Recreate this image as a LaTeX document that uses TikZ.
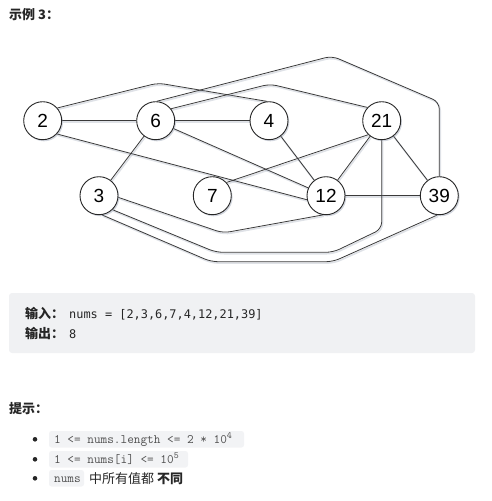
\documentclass[tikz,border=0pt]{standalone}
\usepackage{fontspec}
\setmainfont{Liberation Sans}
\newfontfamily\cjk{Noto Sans CJK SC}
\newfontfamily\codeA{DejaVu Sans Mono}
\usetikzlibrary{shadows}
\definecolor{ink}{HTML}{262626}
\definecolor{boxbg}{HTML}{F0F1F3}
\definecolor{codebg}{HTML}{F2F3F5}
\definecolor{codegray}{HTML}{505050}
\definecolor{edgecol}{HTML}{3A3A3A}
\definecolor{shadowcol}{HTML}{7F8AA0}
\pgfdeclarelayer{bg}
\pgfsetlayers{bg,main}
\tikzset{
  vert/.style={circle, draw=black!85, line width=0.9pt, fill=white, minimum size=38pt,
    inner sep=0pt, font=\fontsize{19}{20}\selectfont,
    drop shadow={shadow xshift=1.3pt, shadow yshift=-1.6pt, opacity=0.35, fill=shadowcol}},
  link/.style={draw=edgecol, line width=0.8pt, rounded corners=7pt,
    preaction={draw=shadowcol, opacity=0.25, line width=1.6pt,
      transform canvas={shift={(0.9pt,-1.4pt)}}}},
  cjktxt/.style={anchor=base west, inner sep=0pt, text=ink, font=\cjk\fontsize{13}{15}\selectfont},
  cjkbold/.style={anchor=base west, inner sep=0pt, text=ink, font=\cjk\bfseries\fontsize{13}{15}\selectfont},
  monoA/.style={anchor=base west, inner sep=0pt, text=ink, font=\codeA\fontsize{11.9}{13}\selectfont},
  monoB/.style={anchor=base west, inner sep=0pt, text=codegray, font=\ttfamily\fontsize{12.9}{14}\selectfont},
  bulletdot/.style={circle, fill=ink, inner sep=0pt, minimum size=4.6pt},
}
\newcommand{\supnum}[1]{\raisebox{4.5pt}{\fontsize{9.5}{10}\selectfont #1}}
\begin{document}
\begin{tikzpicture}[x=1pt, y=-1pt]
\useasboundingbox (0,0) rectangle (492,501);

% title
\node[cjkbold] (title) at (9,19) {示例 3：};

% graph nodes
\node[vert] (n2)  at (42.7,120.7) {2};
\node[vert] (n6)  at (155.7,120.7) {6};
\node[vert] (n4)  at (269,120.7) {4};
\node[vert] (n21) at (381.7,120.7) {21};
\node[vert] (n3)  at (99,195.7) {3};
\node[vert] (n7)  at (212.3,195.7) {7};
\node[vert] (n12) at (326,195.7) {12};
\node[vert] (n39) at (439.3,195.7) {39};

\begin{pgfonlayer}{bg}
\draw[link] (n2) -- (n6);
\draw[link] (n6) -- (n4);
\draw[link] (n2.-43) -- (n12.-168);
\draw[link] (n6) -- (n12);
\draw[link] (n4) -- (n12);
\draw[link] (n6) -- (n3);
\draw[link] (n7.43) -- (n21.226);
\draw[link] (n21) -- (n12);
\draw[link] (n21) -- (n39);
\draw[link] (n12) -- (n39);
\draw[link] (n2.41) -- (158,83) -- (n4.96);
\draw[link] (n6.38) -- (270,84) -- (n21.137);
\draw[link] (n6.87) -- (332,56) -- (439.3,102) -- (n39.north);
\draw[link] (n3.-5) -- (223,233) -- (n12.-99);
\draw[link] (n3.-46) -- (216,252.3) -- (333,252.3) -- (381.7,229) -- (n21.south);
\draw[link] (n3.-81) -- (211,261.7) -- (333,261.7) -- (n39.-96);
\end{pgfonlayer}

% example box
\fill[boxbg, rounded corners=3pt] (9,293) rectangle (475,353);
\node[cjkbold] (inlab) at (25,318) {输入：};
\node[monoA] (inval) at (69,318) {nums = [2,3,6,7,4,12,21,39]};
\node[cjkbold] (outlab) at (25,338) {输出：};
\node[monoA] (outval) at (69,338) {8};

% hints
\node[cjkbold] (hint) at (9,413) {提示：};
\node[bulletdot] (b1) at (35,439.3) {};
\node[bulletdot] (b2) at (35,459.3) {};
\node[bulletdot] (b3) at (35,478.3) {};
\fill[codebg, rounded corners=2.5pt] (49,431) rectangle (244,447.5);
\fill[codebg, rounded corners=2.5pt] (49,451) rectangle (188,467.5);
\fill[codebg, rounded corners=2.5pt] (49,470) rectangle (84,486.5);
\node[monoB] (h1) at (54,443.3) {1 <= nums.length <= 2 * 10\supnum{4}};
\node[monoB] (h2) at (54,463.3) {1 <= nums[i] <= 10\supnum{5}};
\node[monoB] (h3) at (54,482.3) {nums};
\node[cjktxt] (h3b) at (89,483) {中所有值都 {\bfseries 不同}};
\end{tikzpicture}
\end{document}
